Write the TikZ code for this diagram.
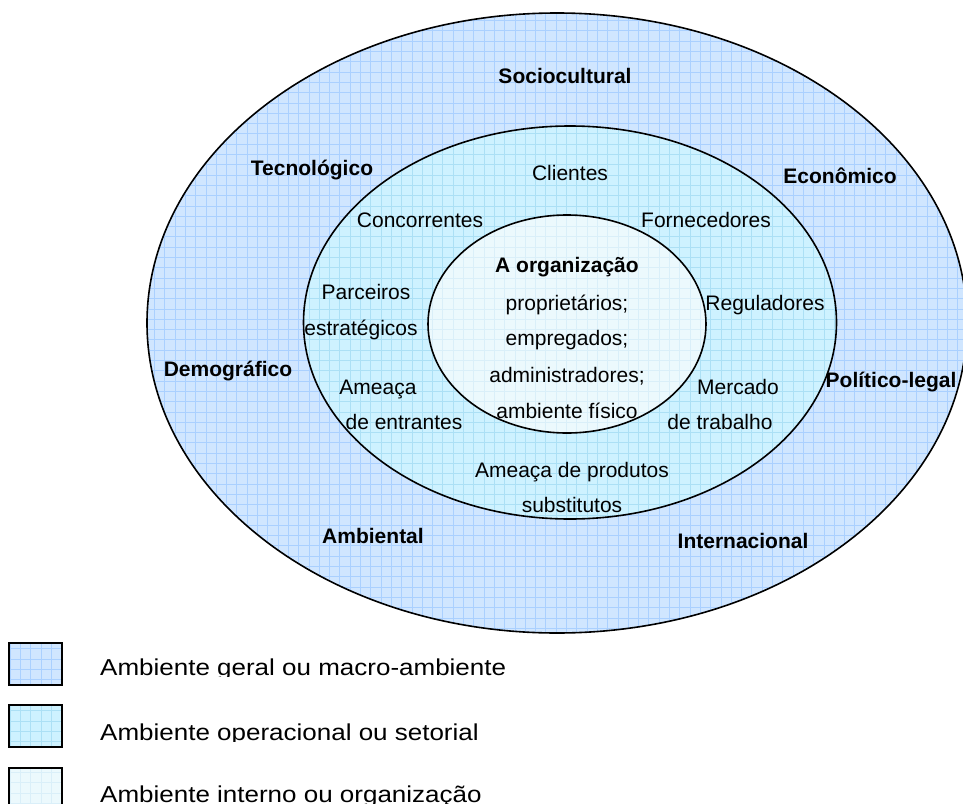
\documentclass[tikz,border=0pt]{standalone}
\usepackage{fontspec}
\setmainfont{Liberation Sans}
\definecolor{outbg}{RGB}{208,230,255}
\definecolor{outgrid}{RGB}{170,208,255}
\definecolor{midbg}{RGB}{206,242,255}
\definecolor{midgrid}{RGB}{172,224,245}
\definecolor{inbg}{RGB}{236,249,253}
\definecolor{ingrid}{RGB}{218,239,249}
\begin{document}
\begin{tikzpicture}[x=1pt,y=-1pt,
  lbl/.style={font=\fontsize{21}{25}\selectfont, inner sep=0pt, anchor=base},
  blbl/.style={font=\fontsize{21}{25}\selectfont\bfseries, inner sep=0pt, anchor=base},
  legtxt/.style={font=\fontsize{23}{27}\selectfont, inner sep=0pt, anchor=base west},
  gridline/.style={line width=0.9pt},
  ring/.style={draw=black, line width=1.6pt}]
\useasboundingbox (0,0) rectangle (963,803);
\clip (0,0) rectangle (963,803);
% outer
\begin{scope}
  \clip (557,323) ellipse [x radius=410pt, y radius=310pt];
  \fill[outbg] (0,0) rectangle (963,803);
  \draw[outgrid, gridline] (0,0) grid[step=10.3pt] (963,803);
\end{scope}
% middle
\begin{scope}
  \clip (570,322.5) ellipse [x radius=266.5pt, y radius=196.5pt];
  \fill[midbg] (0,0) rectangle (963,803);
  \draw[midgrid, gridline] (0,0) grid[step=10.3pt] (963,803);
\end{scope}
% inner
\begin{scope}
  \clip (567,324) ellipse [x radius=139pt, y radius=109pt];
  \fill[inbg] (0,0) rectangle (963,803);
  \draw[ingrid, gridline] (0,0) grid[step=10.3pt] (963,803);
\end{scope}
\draw[ring] (557,323) ellipse [x radius=410pt, y radius=310pt];
\draw[ring] (570,322.5) ellipse [x radius=266.5pt, y radius=196.5pt];
\draw[ring] (567,324) ellipse [x radius=139pt, y radius=109pt];

% outer labels
\node[blbl] (socio) at (565,83) {Sociocultural};
\node[blbl] (tec) at (312,175) {Tecnológico};
\node[blbl] (eco) at (840,183) {Econômico};
\node[blbl] (demo) at (228,376) {Demográfico};
\node[blbl] (pol) at (891,387) {Político-legal};
\node[blbl] (amb) at (373,543) {Ambiental};
\node[blbl] (inter) at (743,548) {Internacional};
% middle labels
\node[lbl] (cli) at (570,180) {Clientes};
\node[lbl] (conc) at (420,227) {Concorrentes};
\node[lbl] (forn) at (706,227) {Fornecedores};
\node[lbl] (parc1) at (366,299) {Parceiros};
\node[lbl] (parc2) at (361,335) {estratégicos};
\node[lbl] (amea1) at (378,394) {Ameaça};
\node[lbl] (amea2) at (404,429) {de entrantes};
\node[lbl] (reg) at (765,310) {Reguladores};
\node[lbl] (merc1) at (738,394) {Mercado};
\node[lbl] (merc2) at (720,429) {de trabalho};
\node[lbl] (subs1) at (572,477) {Ameaça de produtos};
\node[lbl] (subs2) at (572,512) {substitutos};
% inner labels
\node[blbl] (org) at (567,272) {A organização};
\node[lbl] (prop) at (567,310) {proprietários;};
\node[lbl] (emp) at (567,345) {empregados;};
\node[lbl] (adm) at (567,382) {administradores;};
\node[lbl] (fis) at (567,418) {ambiente físico};

% legend boxes
\begin{scope}
  \clip (9,643) rectangle (62,685);
  \fill[outbg] (0,600) rectangle (80,803);
  \draw[outgrid, gridline] (0,600) grid[step=10.3pt] (80,803);
\end{scope}
\begin{scope}
  \clip (9,705) rectangle (62,747);
  \fill[midbg] (0,600) rectangle (80,803);
  \draw[midgrid, gridline] (0,600) grid[step=10.3pt] (80,803);
\end{scope}
\begin{scope}
  \clip (9,768) rectangle (62,812);
  \fill[inbg] (0,600) rectangle (80,812);
  \draw[ingrid, gridline] (0,600) grid[step=10.3pt] (80,812);
\end{scope}
\draw[line width=1.5pt] (9,643) rectangle (62,685);
\draw[line width=1.5pt] (9,705) rectangle (62,747);
\draw[line width=1.5pt] (9,768) rectangle (62,812);

% legend texts (bottoms cut off as in the original)
\begin{scope}
  \clip (90,640) rectangle (620,676.5);
  \node[legtxt] (leg1) at (100,675) {\scalebox{1.13}[1]{Ambiente geral ou macro-ambiente}};
\end{scope}
\begin{scope}
  \clip (90,705) rectangle (620,741.5);
  \node[legtxt] (leg2) at (100,740) {\scalebox{1.13}[1]{Ambiente operacional ou setorial}};
\end{scope}
\begin{scope}
  \clip (90,765) rectangle (620,803);
  \node[legtxt] (leg3) at (100,802) {\scalebox{1.13}[1]{Ambiente interno ou organização}};
\end{scope}
\end{tikzpicture}
\end{document}
